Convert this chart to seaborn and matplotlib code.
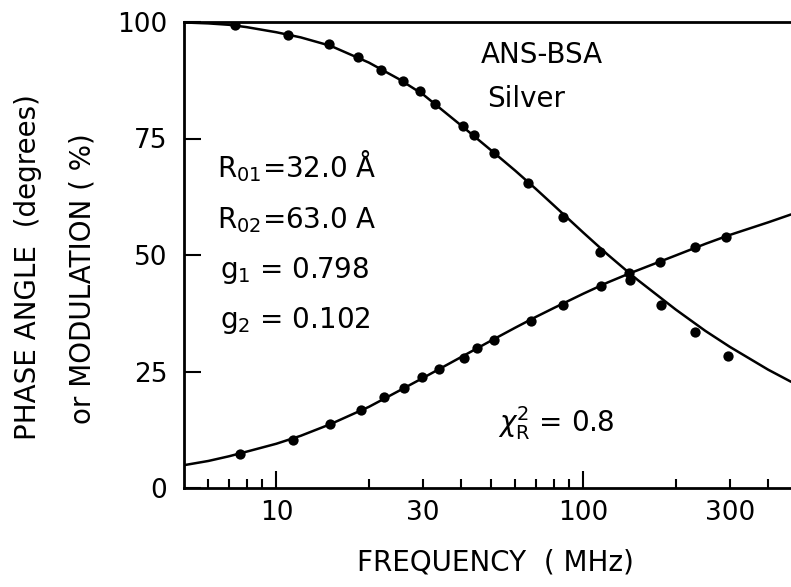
import numpy as np
import pandas as pd
import matplotlib
matplotlib.use("Agg")
import matplotlib.pyplot as plt
import seaborn as sns
from matplotlib.ticker import FixedLocator, FuncFormatter

# ---- data ----
mod_freq = [7.31, 10.9, 14.85, 18.4, 22.0, 25.9, 29.4, 32.9, 40.4, 44.0, 51.2,
            66.2, 86.1, 113.3, 141.9, 179.5, 232, 296]
mod_vals = [99.4, 97.3, 95.3, 92.4, 89.7, 87.4, 85.2, 82.5, 77.7, 75.8, 71.8,
            65.5, 58.2, 50.7, 44.6, 39.3, 33.4, 28.3]

phase_freq = [7.62, 11.3, 15.0, 18.9, 22.4, 26.1, 29.9, 33.9, 40.9, 45.1, 51.2,
              67.3, 86.1, 113.8, 140.9, 177.9, 230.5, 291]
phase_vals = [7.4, 10.4, 13.7, 16.7, 19.5, 21.4, 23.8, 25.5, 27.8, 30.0, 31.8,
              35.9, 39.3, 43.3, 46.1, 48.6, 51.8, 53.9]

fit_freq = [5, 6, 7, 8, 10, 12, 15, 20, 25, 30, 40, 50, 60, 70, 80, 100,
            120, 142, 150, 200, 250, 300, 400, 475]
mod_fit = [99.9, 99.7, 99.4, 98.9, 97.8, 96.7, 94.9, 91.3, 87.8, 84.5, 77.8,
           72.5, 68.1, 64.2, 60.7, 54.8, 50.1, 46.0, 44.7, 38.3, 33.7, 30.3,
           25.4, 22.8]
phase_fit = [4.9, 5.8, 6.8, 7.8, 9.5, 11.2, 13.7, 17.4, 20.8, 23.6, 28.1,
             31.6, 34.4, 36.7, 38.6, 41.7, 44.1, 46.1, 46.7, 49.9, 52.4, 54.3,
             57.0, 58.7]

x_major = [10, 100]
x_minor = [6, 7, 8, 9, 20, 30, 40, 50, 60, 70, 80, 90, 200, 300, 400]
minor_labels = {30: "30", 300: "300"}
y_ticks = [0, 25, 50, 75, 100]

# ---- figure ----
sns.set_theme(style="white")
plt.rcParams["font.family"] = ["DejaVu Sans"]
plt.rcParams["mathtext.fontset"] = "dejavusans"
plt.rcParams["text.color"] = "black"
plt.rcParams["axes.labelcolor"] = "black"
plt.rcParams["xtick.color"] = "black"
plt.rcParams["ytick.color"] = "black"

fig = plt.figure(figsize=(7.91, 5.87), dpi=100)
ax = fig.add_axes([184 / 791, 1 - 488 / 587, 1 - 184 / 791, (488 - 22) / 587])

pts = pd.DataFrame({
    "f": mod_freq + phase_freq,
    "v": mod_vals + phase_vals,
    "s": ["mod"] * len(mod_freq) + ["phase"] * len(phase_freq),
})
fit = pd.DataFrame({
    "f": fit_freq + fit_freq,
    "v": mod_fit + phase_fit,
    "s": ["mod"] * len(fit_freq) + ["phase"] * len(fit_freq),
})

ax.set_xscale("log")
sns.lineplot(data=fit, x="f", y="v", units="s", estimator=None, color="black",
             linewidth=1.8, sort=False, ax=ax, legend=False)
sns.scatterplot(data=pts, x="f", y="v", color="black", s=55, edgecolor="black",
                linewidth=0, ax=ax, legend=False, zorder=3)

ax.set_xlim(5, 475)
ax.set_ylim(0, 100)

ax.xaxis.set_major_locator(FixedLocator(x_major))
ax.xaxis.set_minor_locator(FixedLocator(x_minor))
ax.xaxis.set_major_formatter(FuncFormatter(lambda v, p: f"{v:.0f}"))
ax.xaxis.set_minor_formatter(FuncFormatter(
    lambda v, p: minor_labels.get(int(round(v)), "")))
ax.set_yticks(y_ticks)
ax.set_yticklabels([str(t) for t in y_ticks])

ax.tick_params(axis="x", which="major", direction="in", length=12, width=1.5,
               pad=9, labelsize=19, bottom=True, colors="black")
ax.tick_params(axis="x", which="minor", direction="in", length=6.5, width=1.5,
               pad=9, labelsize=19, bottom=True, colors="black")
ax.tick_params(axis="y", which="major", direction="in", length=12, width=1.5,
               pad=12, labelsize=19, left=True, colors="black")
ax.tick_params(axis="x", which="both", top=False)
ax.tick_params(axis="y", which="both", right=False)

for side in ["left", "bottom", "top"]:
    ax.spines[side].set_visible(True)
    ax.spines[side].set_color("black")
    ax.spines[side].set_linewidth(2.0)
ax.spines["right"].set_visible(False)

ax.set_xlabel("")
ax.set_ylabel("")

# axis titles
fig.text(495 / 791, 1 - 562 / 587, "FREQUENCY  ( MHz)", ha="center", va="center",
         fontsize=20)
fig.text(28 / 791, 1 - 267 / 587, "PHASE ANGLE  (degrees)", ha="center",
         va="center", rotation=90, fontsize=20)
fig.text(83 / 791, 1 - 279 / 587, "or MODULATION ( %)", ha="center",
         va="center", rotation=90, fontsize=20)

# annotations
def ftext(x, y, s, **kw):
    fig.text(x / 791, 1 - y / 587, s, ha="left", va="baseline", fontsize=20, **kw)

ftext(481, 63, "ANS-BSA")
ftext(487, 107, "Silver")
ftext(217, 177, r"R$_{01}$=32.0 Å")
ftext(217, 228, r"R$_{02}$=63.0 A")
ftext(220, 278, r"g$_1$ = 0.798")
ftext(220, 328, r"g$_2$ = 0.102")
ftext(498, 432, r"$\chi^2_\mathrm{R}$ = 0.8")

fig.savefig("out.png", dpi=100)
